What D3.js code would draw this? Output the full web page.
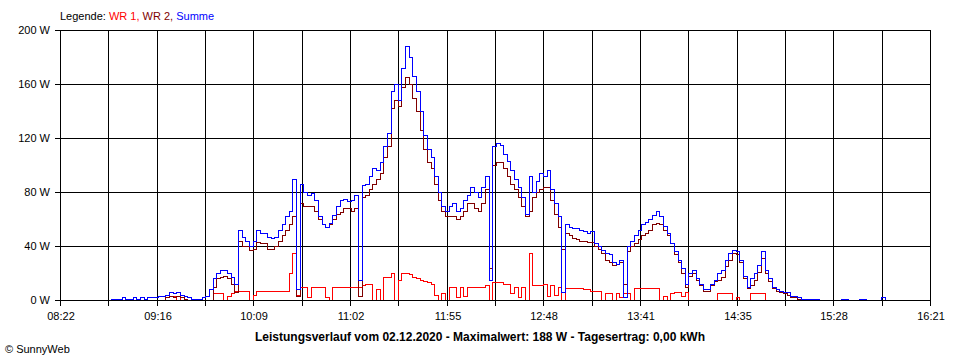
<!DOCTYPE html>
<html>
<head>
<meta charset="utf-8">
<script src="https://cdn.jsdelivr.net/npm/d3@7"></script>
<style>
html,body{margin:0;padding:0;background:#fff;}
svg{display:block;font-family:"Liberation Sans",Arial,sans-serif;}
</style>
</head>
<body>
<svg id="chart" width="960" height="360"></svg>
<script>
// ---- data ----
const axisStart = "08:22", axisEnd = "16:21";
const xTickLabels = ["08:22","09:16","10:09","11:02","11:55","12:48","13:41","14:35","15:28","16:21"];
const yTickValues = [0,40,80,120,160,200];
const sampleStart = "08:48", sampleStepMin = 2;

const summe = [0,1,1,1,2,1,1,2,1,2,1,2,2,2,3,3,4,6,5,6,4,3,2,1,1,1,2,3,8,16,
20,22,22,20,17,12,52,47,44,40,44,52,50,50,47,46,47,52,56,62,
66,90,8,86,80,78,79,74,62,56,54,57,63,70,74,75,73,74,78,15,
85,86,92,98,96,102,114,124,155,160,148,172,188,180,166,155,140,122,112,106,
92,80,70,66,70,72,66,68,74,78,84,80,76,84,92,15,114,116,115,108,
103,96,90,84,76,64,92,80,88,94,92,96,82,72,62,6,56,54,53,53,
52,51,50,51,42,40,37,35,34,28,27,30,2,40,44,48,52,56,58,60,
63,66,62,55,50,42,36,30,24,12,20,22,16,12,8,8,12,15,20,22,
30,35,37,36,30,18,10,16,20,26,36,22,16,10,8,7,6,6,3,3,
2,1,1,1,1,1,0,0,0,0,0,0,1,1,0,0,0,1,1,0,
0,0,0,2,0];

const wr2 = [0,0,0,0,0,0,0,0,0,0,0,0,0,0,0,0,2,3,2,3,2,1,0,0,0,0,0,0,0,10,
16,17,18,16,12,6,44,40,40,37,38,43,42,42,38,38,40,44,48,52,
56,62,3,72,70,70,70,66,60,56,54,56,60,64,65,68,68,66,68,3,
76,78,82,86,90,94,106,114,142,148,144,158,165,160,150,140,126,112,102,98,
86,74,66,62,62,62,60,62,66,72,72,68,66,72,82,24,100,102,102,98,
92,86,82,76,70,62,66,76,80,82,84,84,74,64,54,38,50,48,46,45,
44,44,43,43,40,38,35,30,28,26,27,28,12,36,40,42,45,48,50,52,
56,57,56,52,48,42,34,28,20,10,18,20,15,11,7,7,11,14,15,17,
25,30,35,34,28,16,9,11,15,21,31,20,14,9,7,6,5,4,2,2,
1,0,0,0,0,0,0,0,0,0,0,0,0,0,0,0,0,0,0,0,
0,0,0,0,0];

const wr1 = [0,0,0,0,0,0,0,0,0,0,0,0,0,0,0,0,2,3,3,0,2,0,0,0,0,0,0,0,0,5,
5,5,0,3,5,7,7,7,7,0,4,7,7,7,7,7,7,7,7,7,
20,35,4,10,10,2,10,10,10,10,2,0,10,10,10,10,10,10,10,10,
11,12,12,0,8,0,17,17,20,0,15,20,20,19,17,16,15,14,13,12,
4,0,5,0,10,10,2,10,3,10,10,10,10,10,11,0,13,13,13,12,
12,5,10,2,10,0,35,11,11,11,12,3,11,4,10,0,9,9,9,9,
9,8,8,7,7,7,0,5,5,0,5,2,5,5,0,9,9,9,9,9,
9,9,0,3,0,5,6,6,3,6,0,0,0,0,0,0,0,0,5,5,
5,5,0,2,0,0,0,5,5,5,5,0,0,0,0,0,0,0,0,0,
0,0,0,0,0,0,0,0,0,0,0,0,0,0,0,0,0,0,0,0,
0,0,0,0,0];

const seriesNames = ["WR 1","WR 2","Summe"];
const seriesColors = ["#ff0000","#800000","#0000ff"];

// ---- helpers ----
const toMin = s => { const [h,m] = s.split(":").map(Number); return h*60+m; };
const t0 = toMin(sampleStart);
const times = summe.map((_,i)=> t0 + i*sampleStepMin);

// ---- layout ----
const svg = d3.select("#chart");
const L = 60, R = 930, T = 30, B = 300;

const x = d3.scaleLinear().domain([toMin(axisStart), toMin(axisEnd)]).range([L, R]);
const y = d3.scaleLinear().domain([0, 200]).range([B, T]);
const gridX = d3.scaleLinear().domain([0, (xTickLabels.length-1)*2]).range([L, R]);

const px = v => Math.round(v) + 0.5;

// horizontal grid + y labels
const gy = svg.append("g");
yTickValues.forEach(v=>{
  if (v !== 0) {
    gy.append("line").attr("x1",L-5).attr("x2",R+0.5)
      .attr("y1",px(y(v))).attr("y2",px(y(v)))
      .attr("stroke","#000").attr("stroke-width",1).attr("shape-rendering","crispEdges");
  }
  gy.append("text").attr("x",50).attr("y",Math.round(y(v))+4)
    .attr("text-anchor","end").attr("font-size","11px").attr("fill","#000")
    .text(v + " W");
});

// vertical grid + x labels
const gx = svg.append("g");
d3.range((xTickLabels.length-1)*2+1).forEach(i=>{
  const xv = px(gridX(i));
  gx.append("line").attr("x1",xv).attr("x2",xv).attr("y1",T).attr("y2",B+6)
    .attr("stroke","#000").attr("stroke-width",1).attr("shape-rendering","crispEdges");
});
xTickLabels.forEach((lab,j)=>{
  gx.append("text").attr("x",Math.round(gridX(j*2))+1).attr("y",320)
    .attr("text-anchor","middle").attr("font-size","11px").attr("fill","#000").text(lab);
});

// series
const line = vals => d3.line()
  .x((d,i)=> px(x(times[i])))
  .y(d=> px(y(d)))
  .curve(d3.curveStepAfter)(vals);

[wr1, wr2, summe].forEach((vals, si)=>{
  svg.append("path").attr("d", line(vals))
    .attr("fill","none").attr("stroke",seriesColors[si]).attr("stroke-width",1)
    .attr("shape-rendering","crispEdges");
});

// zero axis line on top
svg.append("line").attr("x1",L-5).attr("x2",R+0.5)
  .attr("y1",px(y(0))).attr("y2",px(y(0)))
  .attr("stroke","#000").attr("stroke-width",1).attr("shape-rendering","crispEdges");

// legend
const leg = svg.append("text").attr("x",60).attr("y",20).attr("font-size","11px");
leg.append("tspan").attr("fill","#000").text("Legende: ");
seriesNames.forEach((n,i)=>{
  leg.append("tspan").attr("fill",seriesColors[i]).text(n + (i<seriesNames.length-1 ? ", " : ""));
});

// title
svg.append("text").attr("x",480).attr("y",341).attr("text-anchor","middle")
  .attr("font-size","12px").attr("font-weight","bold").attr("fill","#000")
  .text("Leistungsverlauf vom 02.12.2020 - Maximalwert: 188 W - Tagesertrag: 0,00 kWh");

// copyright
svg.append("text").attr("x",5).attr("y",353).attr("font-size","11px").attr("fill","#000")
  .text("© SunnyWeb");
</script>
</body>
</html>
